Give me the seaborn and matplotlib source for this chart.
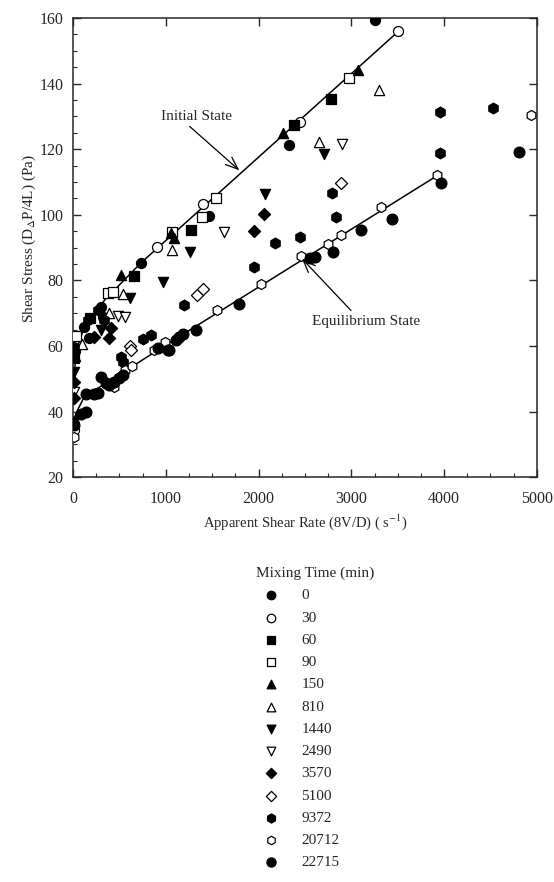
import numpy as np
import pandas as pd
import seaborn as sns
import matplotlib
matplotlib.use("Agg")
import matplotlib.pyplot as plt
from matplotlib.ticker import MultipleLocator

# ---- data (shear rate 1/s, shear stress Pa) ----
x_0 = [20, 116, 176, 302, 321, 735, 1460, 2325, 3250]
y_0 = [58.5, 65.8, 62.3, 72.0, 68.9, 85.3, 99.6, 121.3, 159.4]

x_30 = [10, 900, 1405, 2450, 3500]
y_30 = [34.3, 90.2, 103.2, 128.2, 156.0]

x_60 = [14, 187, 655, 1275, 2387, 2783]
y_60 = [56.4, 68.4, 81.3, 95.5, 127.4, 135.3]

x_90 = [32, 375, 429, 1066, 1390, 1541, 2970]
y_90 = [63.0, 76.0, 76.5, 94.6, 99.4, 105.0, 141.6]

x_150 = [25, 511, 1060, 1091, 2268, 3067]
y_150 = [57.0, 81.6, 94.3, 92.8, 124.8, 144.1]

x_810 = [94, 392, 537, 1066, 2649, 3294]
y_810 = [60.5, 70.1, 75.8, 89.2, 122.3, 138.0]

x_1440 = [14, 302, 608, 965, 1265, 2074, 2700]
y_1440 = [52.0, 64.8, 74.7, 79.6, 88.7, 106.3, 118.5]

x_2490 = [7, 483, 554, 1631, 2894]
y_2490 = [46.0, 69.2, 68.9, 94.7, 121.5]

x_3570 = [14, 7, 230, 392, 403, 1945, 2063]
y_3570 = [44.0, 49.0, 62.8, 62.3, 65.6, 95.2, 100.1]

x_5100 = [608, 626, 1332, 1397, 2891]
y_5100 = [60.0, 58.7, 75.5, 77.3, 109.6]

x_9372 = [14, 159, 266, 338, 518, 537, 752, 842, 1199, 1955, 2182,
          2448, 2790, 2830, 3953, 3953, 4528]
y_9372 = [59.7, 67.9, 71.0, 67.9, 56.7, 55.2, 62.0, 63.3, 72.5, 84.2, 91.5,
          93.3, 106.7, 99.4, 131.4, 118.7, 132.5]

x_20712 = [7, 446, 554, 634, 871, 986, 1548, 2027, 2459, 2747, 2891,
           3323, 3924, 4932]
y_20712 = [32.3, 47.5, 52.6, 54.0, 58.9, 61.3, 70.9, 78.8, 87.4, 91.0, 93.8,
           102.3, 112.1, 130.4]

x_22715 = [0, 14, 86, 140, 140, 230, 266, 302, 356, 392, 446, 500, 537,
           914, 1022, 1037, 1109, 1145, 1180, 1325, 1786, 2549, 2603, 2800,
           3107, 3442, 3970, 4809]
y_22715 = [36.9, 35.9, 39.4, 39.9, 45.3, 45.3, 45.7, 50.6, 48.8, 48.1, 49.1,
           50.1, 51.1, 59.3, 58.9, 58.7, 61.8, 62.8, 63.8, 64.8, 72.8, 86.7,
           87.2, 88.7, 95.3, 98.7, 109.8, 119.2]

# fitted curves
init_x = [10, 50, 120, 340, 730, 1820, 3510]
init_y = [52, 60, 65.8, 74, 85.3, 113, 156]
eq_x = [0, 40, 120, 1170, 3930]
eq_y = [37, 40, 44.5, 63.3, 112]

mixing_times = ['0', '30', '60', '90', '150', '810', '1440', '2490',
                '3570', '5100', '9372', '20712', '22715']
series_x = [x_0, x_30, x_60, x_90, x_150, x_810, x_1440, x_2490,
            x_3570, x_5100, x_9372, x_20712, x_22715]
series_y = [y_0, y_30, y_60, y_90, y_150, y_810, y_1440, y_2490,
            y_3570, y_5100, y_9372, y_20712, y_22715]
markers = ['o', 'o', 's', 's', '^', '^', 'v', 'v', 'D', 'D', 'h', 'h', 'o']
filled = [True, False, True, False, True, False, True, False,
          True, False, True, False, True]
sizes = [52, 52, 44, 44, 54, 54, 54, 54, 38, 38, 60, 52, 60]

sns.set_style("ticks")
plt.rcParams['font.family'] = ['Liberation Serif', 'DejaVu Serif']
plt.rcParams['mathtext.fontset'] = 'stix'

fig = plt.figure(figsize=(5.54, 8.82), dpi=100)
ax = fig.add_axes([0.132, 0.459, 0.837, 0.5206])

for name, xs, ys, m, f, s in zip(mixing_times, series_x, series_y,
                                  markers, filled, sizes):
    df = pd.DataFrame({'rate': xs, 'stress': ys})
    sns.scatterplot(data=df, x='rate', y='stress', ax=ax, marker=m, s=s,
                    facecolor='black' if f else 'white', edgecolor='black',
                    linewidth=0.9, label=name, zorder=3)

sns.lineplot(x=init_x, y=init_y, ax=ax, color='black', lw=1.1,
             sort=False, estimator=None, legend=False, zorder=2)
sns.lineplot(x=eq_x, y=eq_y, ax=ax, color='black', lw=1.1,
             sort=False, estimator=None, legend=False, zorder=2)

# annotations
ax.text(1325, 129.9, 'Initial State', ha='center', va='center', fontsize=11)
ax.annotate('', xy=(1814, 113), xytext=(1234, 127.5),
            arrowprops=dict(arrowstyle='->,head_length=0.9,head_width=0.35',
                            color='black', lw=0.9))
ax.text(3154, 67.4, 'Equilibrium State', ha='center', va='center', fontsize=11)
ax.annotate('', xy=(2448, 87.2), xytext=(3017, 70.2),
            arrowprops=dict(arrowstyle='->,head_length=0.9,head_width=0.35',
                            color='black', lw=0.9))

ax.set_xlim(0, 5000)
ax.set_ylim(20, 160)
ax.xaxis.set_major_locator(MultipleLocator(1000))
ax.xaxis.set_minor_locator(MultipleLocator(250))
ax.yaxis.set_major_locator(MultipleLocator(20))
ax.yaxis.set_minor_locator(MultipleLocator(5))
ax.tick_params(which='major', direction='in', length=6, width=1,
               top=True, right=True, labelsize=11.5)
ax.tick_params(axis='x', which='major', pad=10)
ax.tick_params(axis='y', which='major', pad=7)
ax.tick_params(which='minor', direction='in', length=3, width=0.8,
               top=False, right=False)
for sp in ax.spines.values():
    sp.set_linewidth(1.1)

ax.set_xlabel('Apparent Shear Rate (8V/D) ( s$^{-1}$)', fontsize=10.5, labelpad=4)
ax.set_ylabel('Shear Stress (D$_{\\Delta}$P/4L) (Pa)', fontsize=11)
ax.yaxis.set_label_coords(-0.075, 0.52)

handles, labels = ax.get_legend_handles_labels()
leg = ax.legend(handles, labels, title='Mixing Time (min)', frameon=False,
                loc='upper center', bbox_to_anchor=(0.568, 0.373),
                bbox_transform=fig.transFigure, fontsize=11, title_fontsize=11,
                labelspacing=0.56, handletextpad=1.0, markerscale=0.85)
leg._legend_box.align = 'left'

fig.savefig('out.png', dpi=100)
